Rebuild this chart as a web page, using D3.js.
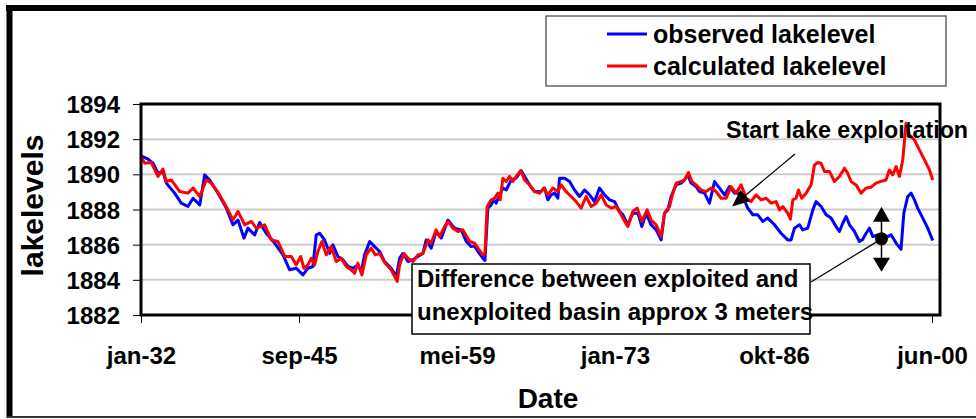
<!DOCTYPE html>
<html>
<head>
<meta charset="utf-8">
<script src="https://cdn.jsdelivr.net/npm/d3@7"></script>
<style>
  body { margin: 0; background: #fff; }
  text { font-family: "Liberation Sans", Arial, sans-serif; font-weight: bold; fill: #000; }
</style>
</head>
<body>
<div id="chart"></div>
<script>

// observed lake level [decimal year, level]
let observed = [
  [1932.00,1891.05],[1932.61,1890.86],[1933.04,1890.63],[1933.47,1890.06],[1933.90,1890.16],[1934.19,1889.50],
  [1934.91,1888.93],[1935.48,1888.36],[1936.06,1888.17],[1936.50,1888.64],[1937.08,1888.26],[1937.51,1889.97],
  [1937.94,1889.68],[1938.66,1888.93],[1939.38,1888.08],[1939.95,1887.13],[1940.39,1887.40],[1940.91,1886.37],
  [1941.25,1886.94],[1941.83,1886.56],[1942.26,1887.26],[1942.83,1886.65],[1943.56,1886.09],[1944.28,1885.42],
  [1944.86,1884.57],[1945.43,1884.66],[1946.01,1884.28],[1946.44,1884.66],[1946.87,1884.76],[1947.16,1886.56],
  [1947.45,1886.65],[1947.88,1886.27],[1948.32,1885.50],[1948.60,1885.99],[1949.03,1885.33],[1949.47,1885.14],
  [1949.90,1884.76],[1950.33,1884.66],[1950.76,1884.85],[1951.05,1884.47],[1951.34,1885.42],[1951.78,1886.18],
  [1952.21,1885.89],[1952.64,1885.61],[1953.07,1885.04],[1953.64,1884.66],[1954.08,1884.19],[1954.37,1885.23],
  [1954.65,1885.50],[1955.09,1885.04],[1955.52,1885.14],[1955.95,1885.33],[1956.38,1885.50],[1956.67,1886.27],
  [1957.10,1885.80],[1957.53,1886.75],[1957.97,1886.37],[1958.55,1887.40],[1959.12,1886.94],[1959.70,1886.84],
  [1960.13,1886.18],[1960.56,1885.89],[1960.85,1885.93],[1961.14,1885.61],[1961.57,1885.23],[1961.75,1885.10],
  [1962.00,1888.08],[1962.29,1888.26],[1962.52,1888.55],[1962.72,1888.36],[1963.02,1888.83],[1963.30,1889.22],
  [1963.59,1889.11],[1964.02,1889.68],[1964.45,1889.78],[1964.88,1890.21],[1965.18,1889.88],[1965.61,1889.40],
  [1966.04,1889.02],[1966.61,1889.02],[1966.91,1889.22],[1967.19,1888.55],[1967.48,1888.83],[1967.77,1888.93],
  [1968.06,1888.64],[1968.20,1889.78],[1968.64,1889.78],[1969.07,1889.59],[1969.50,1889.11],[1969.93,1888.74],
  [1970.37,1889.11],[1970.80,1888.83],[1971.23,1888.45],[1971.66,1889.22],[1972.10,1888.83],[1972.53,1888.55],
  [1972.96,1888.45],[1973.39,1887.89],[1973.68,1887.70],[1974.11,1887.13],[1974.54,1887.79],[1974.98,1887.79],
  [1975.32,1887.03],[1975.69,1887.79],[1976.12,1887.13],[1976.56,1886.84],[1976.99,1886.27],[1977.28,1887.79],
  [1977.57,1887.98],[1977.85,1888.74],[1978.29,1889.40],[1978.72,1889.50],[1979.01,1889.68],[1979.30,1889.97],
  [1979.58,1889.50],[1980.01,1889.30],[1980.31,1889.02],[1980.74,1888.93],[1981.17,1888.36],[1981.61,1889.59],
  [1982.04,1889.22],[1982.47,1888.83],[1982.90,1889.30],[1983.34,1888.93],[1983.77,1888.93],[1984.05,1888.74],
  [1984.48,1888.08],[1984.92,1887.70],[1985.35,1887.70],[1985.78,1887.32],[1986.21,1887.51],[1986.79,1887.13],
  [1987.36,1886.65],[1987.94,1886.27],[1988.23,1886.27],[1988.52,1886.94],[1988.96,1887.13],[1989.24,1886.84],
  [1989.67,1886.94],[1990.11,1887.98],[1990.39,1888.45],[1990.83,1888.17],[1991.26,1887.70],[1991.69,1887.51],
  [1992.12,1887.03],[1992.41,1886.75],[1992.70,1887.22],[1992.99,1887.60],[1993.28,1887.13],[1993.71,1886.75],
  [1994.14,1886.18],[1994.43,1886.30],[1994.72,1886.65],[1995.01,1886.94],[1995.30,1886.46],[1995.73,1886.56],
  [1996.31,1886.37],[1996.88,1886.56],[1997.31,1886.09],[1997.74,1885.74],[1997.98,1887.79],[1998.32,1888.74],
  [1998.61,1888.93],[1998.90,1888.55],[1999.18,1888.08],[1999.62,1887.51],[2000.05,1886.94],[2000.48,1886.24]
];

// calculated lake level [decimal year, level]
let calculated = [
  [1932.00,1891.00],[1932.32,1890.63],[1932.89,1890.67],[1933.47,1889.88],[1933.90,1890.30],[1934.19,1889.59],
  [1934.62,1889.68],[1935.35,1889.02],[1936.06,1888.93],[1936.50,1889.22],[1937.08,1888.74],[1937.65,1889.68],
  [1938.08,1889.50],[1938.80,1888.83],[1939.52,1887.98],[1939.95,1887.40],[1940.39,1887.89],[1940.97,1887.13],
  [1941.54,1887.32],[1941.97,1886.94],[1942.70,1887.13],[1943.27,1886.27],[1943.85,1886.18],[1944.43,1885.33],
  [1945.00,1885.33],[1945.43,1884.85],[1945.81,1885.33],[1946.09,1884.66],[1946.44,1884.85],[1946.73,1885.23],
  [1947.02,1884.85],[1947.30,1885.61],[1947.65,1886.18],[1948.02,1885.42],[1948.45,1885.89],[1948.89,1885.04],
  [1949.32,1885.23],[1949.75,1884.76],[1950.18,1884.57],[1950.48,1884.38],[1950.76,1884.95],[1951.11,1884.28],
  [1951.48,1885.42],[1951.91,1885.80],[1952.26,1885.42],[1952.64,1885.50],[1953.12,1884.95],[1953.64,1884.57],
  [1954.16,1883.91],[1954.37,1884.85],[1954.74,1885.50],[1955.09,1885.23],[1955.52,1885.04],[1955.95,1885.42],
  [1956.38,1885.50],[1956.82,1886.27],[1957.10,1886.09],[1957.53,1886.84],[1957.83,1886.46],[1958.26,1887.03],
  [1958.55,1887.32],[1958.98,1886.94],[1959.41,1886.75],[1959.84,1886.84],[1960.42,1886.18],[1960.85,1886.09],
  [1961.14,1885.80],[1961.57,1885.42],[1961.75,1885.50],[1961.94,1888.17],[1962.29,1888.55],[1962.58,1888.64],
  [1962.87,1888.93],[1963.07,1888.55],[1963.30,1889.78],[1963.59,1889.59],[1963.88,1889.88],[1964.17,1889.59],
  [1964.45,1889.88],[1964.83,1890.21],[1965.18,1889.68],[1965.61,1889.40],[1966.04,1889.02],[1966.47,1888.93],
  [1966.85,1889.22],[1967.19,1888.83],[1967.62,1889.22],[1968.06,1889.02],[1968.34,1889.40],[1968.77,1889.02],
  [1969.21,1888.74],[1969.64,1888.45],[1970.07,1888.08],[1970.50,1888.74],[1970.94,1888.17],[1971.37,1888.36],
  [1971.80,1888.83],[1972.23,1888.26],[1972.67,1888.08],[1973.10,1888.17],[1973.53,1887.70],[1973.68,1887.51],
  [1974.11,1887.03],[1974.54,1887.89],[1974.91,1888.08],[1975.32,1887.32],[1975.78,1887.98],[1976.12,1887.40],
  [1976.56,1887.13],[1976.99,1886.46],[1977.28,1887.79],[1977.72,1888.17],[1978.00,1888.93],[1978.29,1889.50],
  [1978.72,1889.59],[1979.01,1889.68],[1979.36,1890.10],[1979.64,1889.59],[1980.01,1889.40],[1980.45,1889.11],
  [1980.88,1889.02],[1981.31,1889.22],[1981.74,1889.02],[1982.18,1888.64],[1982.61,1888.64],[1983.04,1889.30],
  [1983.47,1888.93],[1983.91,1889.40],[1984.34,1888.64],[1984.77,1888.45],[1985.20,1888.83],[1985.64,1888.55],
  [1986.07,1888.64],[1986.50,1888.36],[1986.93,1888.45],[1987.23,1887.98],[1987.51,1888.17],[1987.94,1887.79],
  [1988.17,1887.45],[1988.38,1888.55],[1988.66,1888.64],[1988.87,1889.11],[1989.15,1888.64],[1989.53,1888.93],
  [1989.96,1889.40],[1990.25,1890.53],[1990.54,1890.67],[1990.82,1890.63],[1991.12,1890.16],[1991.55,1890.16],
  [1991.98,1889.59],[1992.41,1889.88],[1992.85,1890.35],[1993.13,1890.06],[1993.42,1889.59],[1993.85,1889.40],
  [1994.28,1888.93],[1994.72,1889.22],[1995.15,1889.27],[1995.58,1889.50],[1996.01,1889.60],[1996.44,1889.68],
  [1996.73,1890.25],[1997.02,1889.97],[1997.31,1890.44],[1997.60,1889.88],[1997.89,1890.82],[1998.17,1892.90],
  [1998.47,1892.24],[1998.90,1891.95],[1999.33,1891.39],[1999.77,1890.82],[2000.20,1890.25],[2000.48,1889.68]
];

let seriesNames = ["observed lakelevel", "calculated lakelevel"];
let seriesColors = ["#0000ff", "#ff0000"];

let yTicks = [1882, 1884, 1886, 1888, 1890, 1892, 1894];
let xTickYears = [1932.0, 1945.67, 1959.33, 1973.0, 1986.75, 2000.42];
let xTickLabels = ["jan-32", "sep-45", "mei-59", "jan-73", "okt-86", "jun-00"];

// annotation anchors, in data units
let startExploitation = [1983.13, 1888.17];
let differencePoint = [1996.05, 1886.33];
let noteLines = ["Difference between exploited and", "unexploited basin approx 3 meters"];

let width = 976;
let height = 419;
let plotLeft = 141, plotRight = 940, plotTop = 104, plotBottom = 315;

let svg = d3.select("#chart").append("svg")
    .attr("width", width)
    .attr("height", height);

// outer frame
svg.append("line").attr("x1", 6).attr("x2", width).attr("y1", 8).attr("y2", 8)
    .attr("stroke", "#000").attr("stroke-width", 6);
svg.append("line").attr("x1", 9.5).attr("x2", 9.5).attr("y1", 5).attr("y2", 418)
    .attr("stroke", "#000").attr("stroke-width", 6);
svg.append("line").attr("x1", 7).attr("x2", width).attr("y1", 417).attr("y2", 417)
    .attr("stroke", "#333").attr("stroke-width", 2);

let x = d3.scaleLinear().domain([1932, 2001.11]).range([plotLeft, plotRight]);
let y = d3.scaleLinear().domain([1882, 1894]).range([plotBottom, plotTop]);

// gridlines
svg.append("g").selectAll("line")
    .data(yTicks)
    .join("line")
    .attr("x1", plotLeft).attr("x2", plotRight)
    .attr("y1", d => y(d)).attr("y2", d => y(d))
    .attr("stroke", "#cccccc")
    .attr("stroke-width", 2);

// y axis
let yAxis = svg.append("g")
    .attr("transform", "translate(" + plotLeft + ",0)")
    .call(d3.axisLeft(y).tickValues(yTicks).tickFormat(d3.format("d")).tickSize(8).tickPadding(13));
yAxis.select(".domain").remove();
yAxis.selectAll("text").style("font-size", "24px").attr("dy", "0.36em");

// x axis
let xAxis = svg.append("g")
    .attr("transform", "translate(0," + plotBottom + ")")
    .call(d3.axisBottom(x).tickValues(xTickYears)
        .tickFormat((d, i) => xTickLabels[i]).tickSize(8).tickPadding(24));
xAxis.select(".domain").remove();
xAxis.selectAll("text").style("font-size", "24px");

svg.selectAll(".tick line").attr("stroke", "#000");

// lines
let line = d3.line()
    .x(d => x(d[0]))
    .y(d => y(d[1]));

svg.append("path")
    .datum(observed)
    .attr("d", line)
    .attr("fill", "none")
    .attr("stroke", seriesColors[0])
    .attr("stroke-width", 3)
    .attr("stroke-linejoin", "round");

svg.append("path")
    .datum(calculated)
    .attr("d", line)
    .attr("fill", "none")
    .attr("stroke", seriesColors[1])
    .attr("stroke-width", 3)
    .attr("stroke-linejoin", "round");

// plot area border
svg.append("rect")
    .attr("x", plotLeft).attr("y", plotTop)
    .attr("width", plotRight - plotLeft).attr("height", plotBottom - plotTop)
    .attr("fill", "none")
    .attr("stroke", "#000")
    .attr("stroke-width", 3);

// axis titles
svg.append("text")
    .attr("x", 548).attr("y", 408)
    .attr("text-anchor", "middle")
    .style("font-size", "28px")
    .text("Date");

svg.append("text")
    .attr("transform", "translate(43," + ((plotTop + plotBottom) / 2 - 4) + ") rotate(-90)")
    .attr("text-anchor", "middle")
    .style("font-size", "30px")
    .text("lakelevels");

// legend
let legend = svg.append("g");
legend.append("rect")
    .attr("x", 546).attr("y", 16)
    .attr("width", 400).attr("height", 70)
    .attr("fill", "#fff")
    .attr("stroke", "#666")
    .attr("stroke-width", 1.5);

legend.selectAll(".item")
    .data(seriesNames)
    .join("g")
    .attr("class", "item")
    .attr("transform", (d, i) => "translate(0," + (34 + i * 32) + ")")
    .each(function(d, i) {
        let g = d3.select(this);
        g.append("line")
            .attr("x1", 607).attr("x2", 647)
            .attr("stroke", seriesColors[i])
            .attr("stroke-width", 3);
        g.append("text")
            .attr("x", 653).attr("y", 9)
            .style("font-size", "25px")
            .text(d);
    });

// "Start lake exploitation" arrow
let tipX = x(startExploitation[0]), tipY = y(startExploitation[1]);
svg.append("text")
    .attr("x", 726).attr("y", 138)
    .style("font-size", "23.3px")
    .text("Start lake exploitation");

let sx = 795, sy = 154;
let ang = Math.atan2(tipY - sy, tipX - sx);
svg.append("line")
    .attr("x1", sx).attr("y1", sy)
    .attr("x2", tipX - 12 * Math.cos(ang)).attr("y2", tipY - 12 * Math.sin(ang))
    .attr("stroke", "#000").attr("stroke-width", 1.2);
svg.append("path")
    .attr("d", "M0,0 L-17,-7.5 L-17,7.5 Z")
    .attr("transform", "translate(" + tipX + "," + tipY + ") rotate(" + (ang * 180 / Math.PI) + ")")
    .attr("fill", "#000");

// difference marker
let px = x(differencePoint[0]), py = y(differencePoint[1]);
svg.append("line")
    .attr("x1", px).attr("x2", px)
    .attr("y1", py - 20).attr("y2", py + 20)
    .attr("stroke", "#000").attr("stroke-width", 1.5);
svg.append("path")
    .attr("d", "M" + px + "," + (py - 32) + " L" + (px - 8.5) + "," + (py - 17) + " L" + (px + 8.5) + "," + (py - 17) + " Z")
    .attr("fill", "#000");
svg.append("path")
    .attr("d", "M" + px + "," + (py + 33) + " L" + (px - 8.5) + "," + (py + 19) + " L" + (px + 8.5) + "," + (py + 19) + " Z")
    .attr("fill", "#000");

// callout box
svg.append("line")
    .attr("x1", 811).attr("y1", 282)
    .attr("x2", px).attr("y2", py)
    .attr("stroke", "#000").attr("stroke-width", 1.2);
svg.append("circle")
    .attr("cx", px).attr("cy", py)
    .attr("r", 6.5)
    .attr("fill", "#000");

svg.append("rect")
    .attr("x", 412).attr("y", 264)
    .attr("width", 398).attr("height", 70)
    .attr("fill", "#fff")
    .attr("stroke", "#000")
    .attr("stroke-width", 1.5);

svg.append("g").selectAll("text")
    .data(noteLines)
    .join("text")
    .attr("x", 417)
    .attr("y", (d, i) => 287 + i * 33)
    .style("font-size", "24px")
    .text(d => d);

</script>
</body>
</html>
